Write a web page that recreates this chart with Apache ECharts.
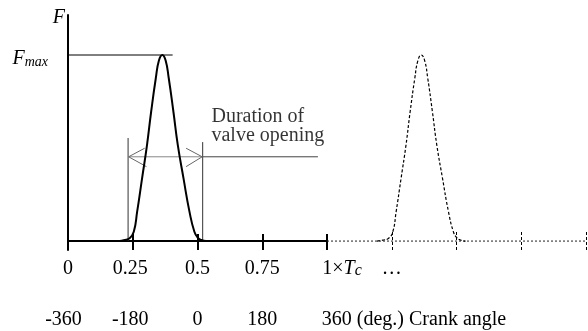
<!DOCTYPE html>
<html>
<head>
<meta charset="utf-8">
<script src="https://cdn.jsdelivr.net/npm/echarts@6/dist/echarts.min.js"></script>
<style>
html, body { margin: 0; padding: 0; background: #fff; }
#chart { width: 588px; height: 331px; }
</style>
</head>
<body>
<div id="chart"></div>
<script>
// x in cycles (1 = Tc), F as a fraction of Fmax
var pulseX = [0.200, 0.215, 0.238, 0.254, 0.267, 0.286, 0.305, 0.321, 0.339, 0.351, 0.364, 0.377, 0.389, 0.407, 0.424, 0.446, 0.469, 0.488, 0.501, 0.515, 0.533];
var pulseF = [0, 0.005, 0.015, 0.05, 0.158, 0.337, 0.516, 0.695, 0.875, 0.97, 1.0, 0.97, 0.875, 0.695, 0.516, 0.337, 0.158, 0.05, 0.018, 0.006, 0];
// the same pulse one cycle later (dashed)
var nextX = [1.193, 1.215, 1.238, 1.254, 1.267, 1.286, 1.305, 1.321, 1.339, 1.351, 1.364, 1.377, 1.389, 1.407, 1.424, 1.446, 1.469, 1.488, 1.501, 1.515, 1.535];
var nextF = [0, 0.005, 0.015, 0.05, 0.158, 0.337, 0.516, 0.695, 0.875, 0.97, 1.0, 0.97, 0.875, 0.695, 0.516, 0.337, 0.158, 0.05, 0.018, 0.006, 0];

var solidTicks = [0.25, 0.5, 0.75, 1];
var dashTicks = [1.25, 1.5, 1.75, 2];
var row1Values = [0, 0.25, 0.5, 0.75, 1, 1.25];
var row1Labels = ['0', '0.25', '0.5', '0.75', '1×Tc', '…'];
var row2Values = [0, 0.25, 0.5, 0.75];
var row2Labels = ['-360', '-180', '0', '180'];
var crankValue = 1;
var crankLabel = '360 (deg.) Crank angle';

var fmaxLineX = [-0.031, 0.404];
var openStartX = 0.232, openStartTop = 0.554;
var openEndX = 0.520, openEndTop = 0.532;
var arrowF = 0.453;
var arrowX = [0.234, 0.518];
var leaderX = [0.520, 0.965];
var chevronLeft = [[0.296, 0.499], [0.234, 0.453], [0.303, 0.400]];
var chevronRight = [[0.456, 0.499], [0.518, 0.453], [0.456, 0.400]];
var noteAt = [0.554, 0.617];
var noteText = 'Duration of\nvalve opening';

var serif = "'Liberation Serif', 'Times New Roman', serif";

function xy(xs, ys) {
    return xs.map(function (x, i) { return [x, ys[i]]; });
}
function textWidth(str, size) {
    var ctx = document.createElement('canvas').getContext('2d');
    ctx.font = size + 'px ' + serif;
    return ctx.measureText(str).width;
}

var chart = echarts.init(document.getElementById('chart'));

// pad so the long label starts just left of its tick
var crankPad = Math.round(textWidth(crankLabel, 20) - 10);

function simpleLine(data, color, width, type) {
    return {
        type: 'line',
        data: data,
        showSymbol: false,
        symbol: 'none',
        clip: false,
        silent: true,
        lineStyle: { color: color, width: width, type: type || 'solid' }
    };
}

function bottomAxis(extra) {
    var base = {
        type: 'value',
        min: 0,
        max: 2,
        position: 'bottom',
        axisLine: { show: false, onZero: false },
        splitLine: { show: false }
    };
    return Object.assign(base, extra);
}

var labelBase = {
    hideOverlap: false,
    showMinLabel: true,
    showMaxLabel: true,
    color: '#000',
    fontFamily: serif,
    fontSize: 20,
    lineHeight: 20
};

chart.setOption({
    animation: false,
    grid: { left: 68, right: 2, top: 15, bottom: 81 },
    xAxis: [
        bottomAxis({
            axisTick: {
                show: true,
                inside: true,
                length: 16,
                customValues: solidTicks,
                lineStyle: { color: '#000', width: 2 }
            },
            axisLabel: Object.assign({}, labelBase, {
                customValues: row1Values,
                margin: 9,
                formatter: function (v) {
                    var s = row1Labels[row1Values.indexOf(v)];
                    if (s === '1×Tc') {
                        return '{p| }{n|1×}{t|T}{s|c}';
                    }
                    if (s === '0.25') {
                        return '{l|' + s + '}';
                    }
                    return s;
                },
                rich: {
                    l: { fontFamily: serif, fontSize: 20, lineHeight: 20, color: '#000', padding: [0, 5, 0, 0] },
                    p: { width: 30, fontSize: 20, lineHeight: 20, verticalAlign: 'bottom' },
                    n: { fontFamily: serif, fontSize: 20, lineHeight: 20, color: '#000', verticalAlign: 'bottom' },
                    t: { fontFamily: serif, fontStyle: 'italic', fontSize: 20, lineHeight: 20, color: '#000', verticalAlign: 'bottom' },
                    s: { fontFamily: serif, fontStyle: 'italic', fontSize: 16, lineHeight: 11, color: '#000', verticalAlign: 'bottom' }
                }
            })
        }),
        bottomAxis({
            axisTick: {
                show: true,
                inside: true,
                length: 18,
                customValues: dashTicks,
                lineStyle: { color: '#000', width: 1, type: [3, 2] }
            },
            axisLabel: Object.assign({}, labelBase, {
                customValues: row2Values,
                margin: 60,
                formatter: function (v) {
                    var s = row2Labels[row2Values.indexOf(v)];
                    if (s === '-360') {
                        return '{l|' + s + '}';
                    }
                    if (s === '-180') {
                        return '{m|' + s + '}';
                    }
                    return s;
                },
                rich: {
                    l: { fontFamily: serif, fontSize: 20, lineHeight: 20, color: '#000', padding: [0, 9, 0, 0] },
                    m: { fontFamily: serif, fontSize: 20, lineHeight: 20, color: '#000', padding: [0, 5, 0, 0] }
                }
            })
        }),
        bottomAxis({
            axisTick: { show: false },
            axisLabel: Object.assign({}, labelBase, {
                customValues: [crankValue],
                margin: 60,
                formatter: function () {
                    return '{p| }{n|' + crankLabel + '}';
                },
                rich: {
                    p: { width: crankPad, fontSize: 20, lineHeight: 20 },
                    n: { fontFamily: serif, fontSize: 20, lineHeight: 20, color: '#000' }
                }
            })
        })
    ],
    yAxis: {
        type: 'value',
        min: -0.048,
        max: 1.215,
        name: 'F',
        nameLocation: 'end',
        nameGap: -13,
        nameTextStyle: {
            fontFamily: serif,
            fontStyle: 'italic',
            fontSize: 20,
            lineHeight: 20,
            color: '#000',
            align: 'right',
            padding: [0, 3, 0, 0]
        },
        axisLine: { show: true, onZero: false, lineStyle: { color: '#000', width: 2 } },
        axisTick: { show: false },
        splitLine: { show: false },
        axisLabel: {
            customValues: [1],
            margin: 20,
            padding: [8, 0, 0, 0],
            formatter: function () { return '{f|F}{m|max}'; },
            rich: {
                f: { fontFamily: serif, fontStyle: 'italic', fontSize: 20, lineHeight: 20, color: '#000', verticalAlign: 'bottom' },
                m: { fontFamily: serif, fontStyle: 'italic', fontSize: 14, lineHeight: 14, color: '#000', verticalAlign: 'bottom' }
            }
        }
    },
    series: [
        simpleLine([[0, 0], [1, 0]], '#000', 2),
        simpleLine([[1, 0], [2, 0]], '#222', 1, [2, 2]),
        simpleLine(xy(fmaxLineX, [1, 1]), '#000', 1),
        simpleLine([[openStartX, 0], [openStartX, openStartTop]], '#333', 1),
        simpleLine([[openEndX, 0], [openEndX, openEndTop]], '#333', 1),
        simpleLine(xy(arrowX, [arrowF, arrowF]), '#888', 1),
        simpleLine(xy(leaderX, [arrowF, arrowF]), '#444', 1),
        simpleLine(chevronLeft, '#666', 1),
        simpleLine(chevronRight, '#666', 1),
        {
            type: 'line',
            data: xy(pulseX, pulseF),
            smooth: 0.5,
            showSymbol: false,
            symbol: 'none',
            lineStyle: { color: '#000', width: 2 },
            z: 5
        },
        {
            type: 'line',
            data: xy(nextX, nextF),
            smooth: 0.5,
            showSymbol: false,
            symbol: 'none',
            lineStyle: { color: '#000', width: 1.2, type: [3, 2] },
            z: 5
        },
        {
            type: 'scatter',
            data: [noteAt],
            symbolSize: 0,
            silent: true,
            label: {
                show: true,
                position: 'right',
                distance: 0,
                formatter: noteText,
                fontFamily: serif,
                fontSize: 20,
                lineHeight: 19,
                color: '#000'
            }
        }
    ]
});
</script>
</body>
</html>
